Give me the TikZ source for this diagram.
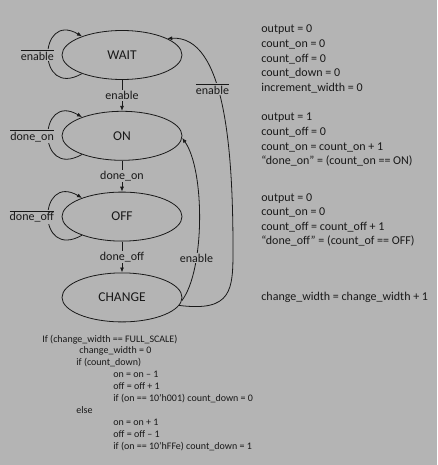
\documentclass[tikz,border=0pt]{standalone}
\usepackage{fontspec}
\setmainfont{Carlito}
\usepackage{tikz}
\usetikzlibrary{positioning,arrows.meta,shapes.geometric}
\definecolor{bg}{RGB}{180,180,180}
\definecolor{ink}{RGB}{25,25,25}
\newcommand{\notsig}[1]{\(\overline{\mbox{#1}}\)}

\begin{document}
\begin{tikzpicture}[x=1pt, y=-1pt, >={Latex[length=5pt,width=4pt]},
    line width=0.8pt, draw=ink, text=ink,
    state/.style={ellipse, draw, minimum width=120pt, minimum height=49pt,
                  inner sep=0pt, font=\fontsize{13.5}{16}\selectfont},
    lbl/.style={fill=bg, inner sep=1pt, font=\fontsize{12}{14}\selectfont},
    info/.style={align=left, inner sep=0pt, font=\fontsize{12}{14.6}\selectfont},
    code/.style={align=left, inner sep=0pt, font=\fontsize{10}{11.9}\selectfont},
    node distance=31pt]
  \fill[bg] (0,0) rectangle (437,465);
  \useasboundingbox (0,0) rectangle (437,465);

  % states
  \node[state] (wait) at (122,55) {WAIT};
  \node[state, below=of wait] (on) {ON};
  \node[state, below=of on] (off) {OFF};
  \node[state, below=of off] (change) {CHANGE};

  % staying in a state
  \foreach \s/\t in {wait/enable, on/done\_on, off/done\_off}
    \draw[->] (\s.205) .. controls +(-46,26) and +(-44,-26) .. (\s.155)
      node[lbl, pos=0.5, anchor=east, xshift=7pt] {\notsig{\t}};

  % moving down
  \draw[->] (wait) -- node[lbl] {enable} (on);
  \draw[->] (on) -- node[lbl] {done\_on} (off);
  \draw[->] (off) -- node[lbl] {done\_off} (change);

  % back up
  \draw[->] (change.-3) .. controls (205,270) and (205,170) .. (on.-2)
    node[lbl, pos=0.3] {enable};
  \draw[->] (change.-8) .. controls (232,312) and (233,290) .. (233,250)
    .. controls (233,150) and (225,35) .. (wait.20)
    node[lbl, pos=0.57, xshift=-5pt] {\notsig{enable}};

  % what each state does (base = last line)
  \node[info, anchor=base west] (waitout) at (261,91.4)
    {output = 0\\count\_on = 0\\count\_off = 0\\count\_down = 0\\increment\_width = 0};
  \node[info, anchor=base west] (onout) at (261,164.8)
    {output = 1\\count\_off = 0\\count\_on = count\_on + 1\\“done\_on” = (count\_on == ON)};
  \node[info, anchor=base west] (offout) at (261,244.8)
    {output = 0\\count\_on = 0\\count\_off = count\_off + 1\\“done\_off” = (count\_of == OFF)};
  \node[info, anchor=base west] (changeout) at (261,300)
    {change\_width = change\_width + 1};

  \node[code, anchor=base west] (update) at (42,449.1)
    {If (change\_width == FULL\_SCALE)\\
     \hspace*{37pt}change\_width = 0\\
     \hspace*{34pt}if (count\_down)\\
     \hspace*{71pt}on = on – 1\\
     \hspace*{71pt}off = off + 1\\
     \hspace*{71pt}if (on == 10’h001) count\_down = 0\\
     \hspace*{34pt}else\\
     \hspace*{71pt}on = on + 1\\
     \hspace*{71pt}off = off – 1\\
     \hspace*{71pt}if (on == 10’hFFe) count\_down = 1};
\end{tikzpicture}
\end{document}
